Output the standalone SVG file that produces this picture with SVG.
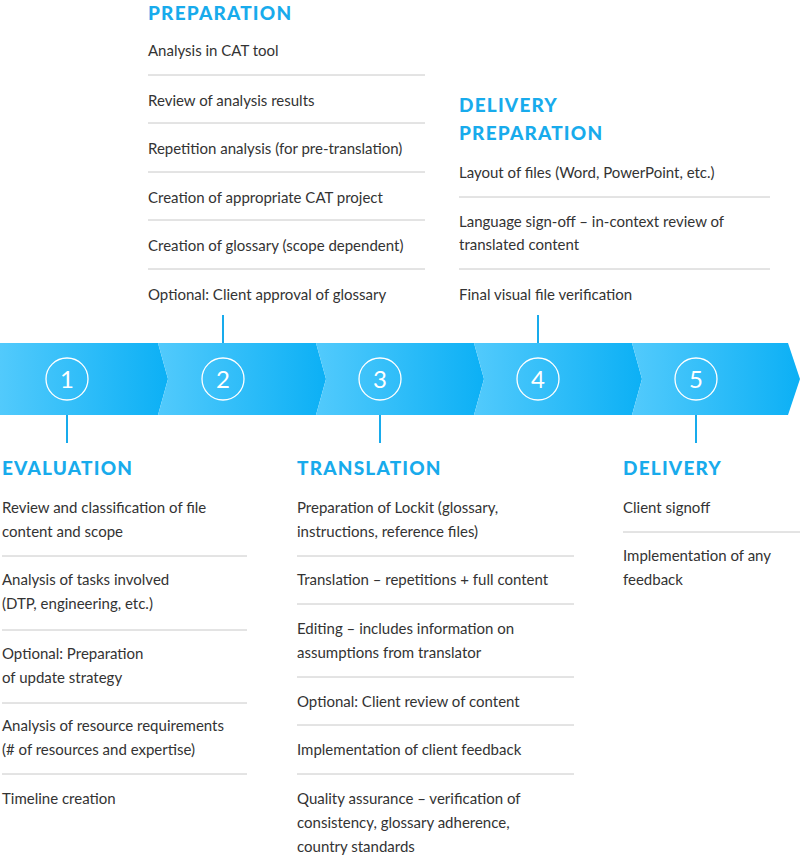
<svg xmlns="http://www.w3.org/2000/svg" width="800" height="856" viewBox="0 0 800 856">
<style>
.h{font-family:Lato,"Liberation Sans",sans-serif;font-weight:900;font-size:19px;fill:#18abec;letter-spacing:1.2px}
.t{font-family:Lato,"Liberation Sans",sans-serif;font-size:15px;fill:#333}
.s{stroke:#c8c8c8;stroke-width:1}
.c{stroke:#18abec;stroke-width:2}
.n{font-family:Lato,"Liberation Sans",sans-serif;font-size:24px;fill:#fff;text-anchor:middle}
.o{fill:none;stroke:#fff;stroke-width:1.3}
</style>
<defs>
<linearGradient id="g" x1="0" x2="1" y1="0" y2="0"><stop offset="0" stop-color="#52cafc"/><stop offset="1" stop-color="#0cb0f5"/></linearGradient>
</defs>
<rect width="800" height="856" fill="#fff"/>
<g id="band">
<polygon points="0,343 158,343 168,379 158,415 0,415" fill="url(#g)"/>
<polygon points="158,343 316,343 326,379 316,415 158,415 168,379" fill="url(#g)"/>
<polygon points="316,343 474,343 484,379 474,415 316,415 326,379" fill="url(#g)"/>
<polygon points="474,343 632,343 642,379 632,415 474,415 484,379" fill="url(#g)"/>
<polygon points="632,343 788,343 800,379 788,415 632,415 642,379" fill="url(#g)"/>
<circle class="o" cx="67" cy="379" r="21"/><text class="n" x="67" y="388">1</text>
<circle class="o" cx="223" cy="379" r="21"/><text class="n" x="223" y="388">2</text>
<circle class="o" cx="380" cy="379" r="21"/><text class="n" x="380" y="388">3</text>
<circle class="o" cx="538" cy="379" r="21"/><text class="n" x="538" y="388">4</text>
<circle class="o" cx="696" cy="379" r="21"/><text class="n" x="696" y="388">5</text>
</g>
<g id="connectors">
<line class="c" x1="67" y1="415" x2="67" y2="443"/>
<line class="c" x1="223" y1="343" x2="223" y2="315"/>
<line class="c" x1="380" y1="415" x2="380" y2="443"/>
<line class="c" x1="538" y1="343" x2="538" y2="315"/>
<line class="c" x1="696" y1="415" x2="696" y2="443"/>
</g>
<g id="preparation">
<text class="h" x="148" y="20">PREPARATION</text>
<text class="t" x="148" y="56">Analysis in CAT tool</text>
<line class="s" x1="148" y1="75" x2="425" y2="75"/>
<text class="t" x="148" y="106">Review of analysis results</text>
<line class="s" x1="148" y1="123" x2="425" y2="123"/>
<text class="t" x="148" y="154">Repetition analysis (for pre-translation)</text>
<line class="s" x1="148" y1="172" x2="425" y2="172"/>
<text class="t" x="148" y="203">Creation of appropriate CAT project</text>
<line class="s" x1="148" y1="220" x2="425" y2="220"/>
<text class="t" x="148" y="251">Creation of glossary (scope dependent)</text>
<line class="s" x1="148" y1="269" x2="425" y2="269"/>
<text class="t" x="148" y="300">Optional: Client approval of glossary</text>
</g>
<g id="delivery-preparation">
<text class="h" x="459" y="112">DELIVERY</text>
<text class="h" x="459" y="140">PREPARATION</text>
<text class="t" x="459" y="178">Layout of files (Word, PowerPoint, etc.)</text>
<line class="s" x1="459" y1="197" x2="770" y2="197"/>
<text class="t" x="459" y="227">Language sign-off – in-context review of</text>
<text class="t" x="459" y="250">translated content</text>
<line class="s" x1="459" y1="269" x2="770" y2="269"/>
<text class="t" x="459" y="300">Final visual file verification</text>
</g>
<g id="evaluation">
<text class="h" x="2" y="475">EVALUATION</text>
<text class="t" x="2" y="513">Review and classification of file</text>
<text class="t" x="2" y="537">content and scope</text>
<line class="s" x1="2" y1="556" x2="247" y2="556"/>
<text class="t" x="2" y="585">Analysis of tasks involved</text>
<text class="t" x="2" y="609">(DTP, engineering, etc.)</text>
<line class="s" x1="2" y1="630" x2="247" y2="630"/>
<text class="t" x="2" y="659">Optional: Preparation</text>
<text class="t" x="2" y="683">of update strategy</text>
<line class="s" x1="2" y1="703" x2="247" y2="703"/>
<text class="t" x="2" y="731">Analysis of resource requirements</text>
<text class="t" x="2" y="755">(# of resources and expertise)</text>
<line class="s" x1="2" y1="774" x2="247" y2="774"/>
<text class="t" x="2" y="804">Timeline creation</text>
</g>
<g id="translation">
<text class="h" x="297" y="475">TRANSLATION</text>
<text class="t" x="297" y="513">Preparation of Lockit (glossary,</text>
<text class="t" x="297" y="537">instructions, reference files)</text>
<line class="s" x1="297" y1="556" x2="574" y2="556"/>
<text class="t" x="297" y="585">Translation – repetitions + full content</text>
<line class="s" x1="297" y1="604" x2="574" y2="604"/>
<text class="t" x="297" y="634">Editing – includes information on</text>
<text class="t" x="297" y="658">assumptions from translator</text>
<line class="s" x1="297" y1="677" x2="574" y2="677"/>
<text class="t" x="297" y="707">Optional: Client review of content</text>
<line class="s" x1="297" y1="725" x2="574" y2="725"/>
<text class="t" x="297" y="755">Implementation of client feedback</text>
<line class="s" x1="297" y1="774" x2="574" y2="774"/>
<text class="t" x="297" y="804">Quality assurance – verification of</text>
<text class="t" x="297" y="828">consistency, glossary adherence,</text>
<text class="t" x="297" y="852">country standards</text>
</g>
<g id="delivery">
<text class="h" x="623" y="475">DELIVERY</text>
<text class="t" x="623" y="513">Client signoff</text>
<line class="s" x1="623" y1="532" x2="800" y2="532"/>
<text class="t" x="623" y="561">Implementation of any</text>
<text class="t" x="623" y="585">feedback</text>
</g>
</svg>
